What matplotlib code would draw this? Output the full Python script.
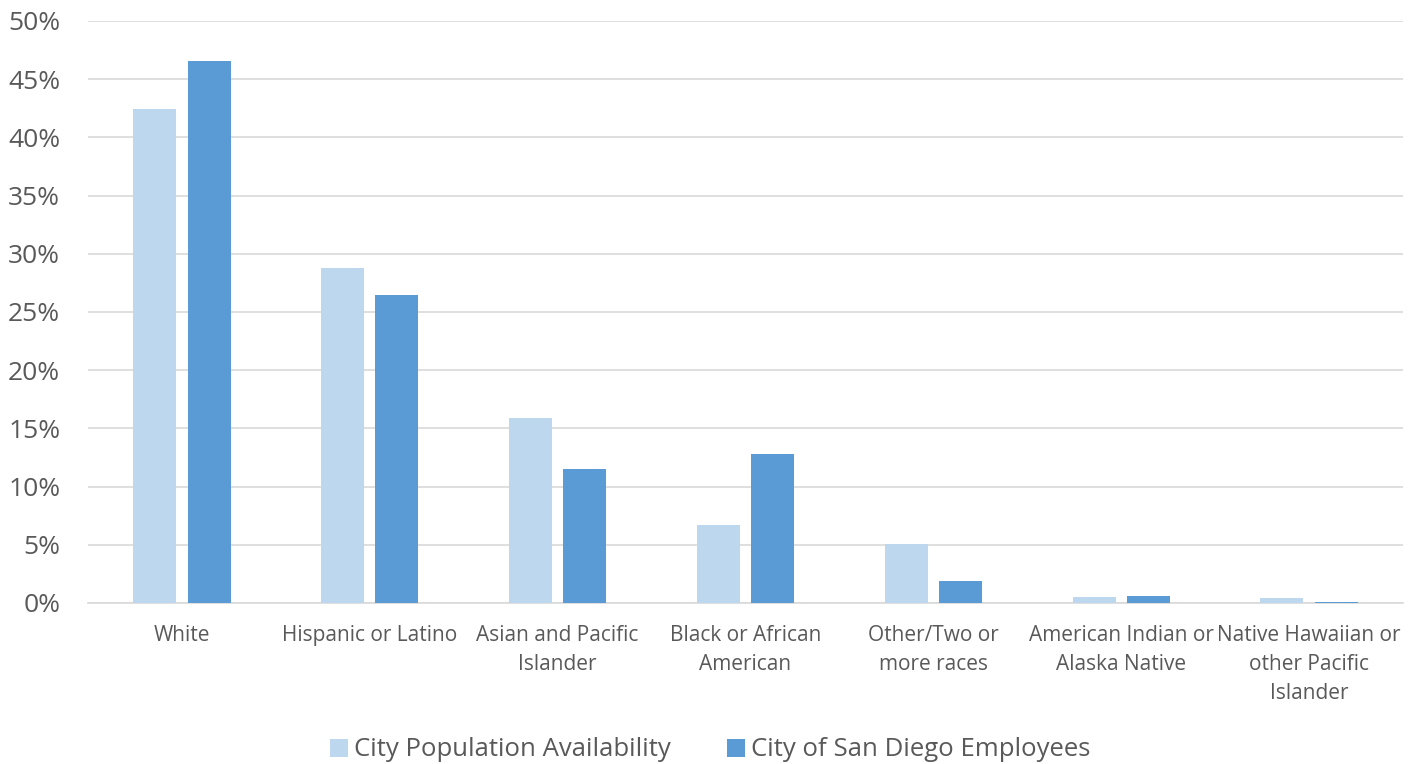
import matplotlib
matplotlib.use("Agg")
import matplotlib.pyplot as plt
import numpy as np

categories = ["White", "Hispanic or Latino", "Asian and Pacific\nIslander",
              "Black or African\nAmerican", "Other/Two or\nmore races",
              "American Indian or\nAlaska Native", "Native Hawaiian or\nother Pacific\nIslander"]
population = [42.4, 28.8, 15.9, 6.7, 5.1, 0.55, 0.43]
employees = [46.6, 26.5, 11.5, 12.8, 1.9, 0.58, 0.09]
series_names = ["City Population Availability", "City of San Diego Employees"]
yticks = [0, 5, 10, 15, 20, 25, 30, 35, 40, 45, 50]

plt.rcParams['font.family'] = ['Open Sans', 'DejaVu Sans']
text_color = "#595959"

fig = plt.figure(figsize=(14.2, 7.64), dpi=100)
ax = fig.add_axes([88/1420, 1-603/764, (1403-88)/1420, (603-21)/764])

x = np.arange(len(categories))
w = 0.229
gap = 0.06
ax.bar(x - (w + gap)/2, population, width=w, color="#BDD7EE", label=series_names[0], zorder=3)
ax.bar(x + (w + gap)/2, employees, width=w, color="#5B9BD5", label=series_names[1], zorder=3)

ax.set_xlim(-0.5, len(categories) - 0.5)
ax.set_ylim(0, 50)
ax.set_yticks(yticks)
ax.set_yticklabels([f"{v}%" for v in yticks], fontsize=19, color=text_color)
ax.set_xticks(x)
ax.set_xticklabels(categories, fontsize=15, color=text_color, linespacing=1.48, va="top")
ax.tick_params(axis="both", length=0)
ax.tick_params(axis="x", pad=16)
ax.tick_params(axis="y", pad=20)
ax.grid(axis="y", color="#D9D9D9", linewidth=1.2, zorder=0)
for s in ["top", "right", "left"]:
    ax.spines[s].set_visible(False)
ax.spines["bottom"].set_color("#D9D9D9")
ax.spines["bottom"].set_linewidth(1.2)

leg = fig.legend(loc="center", bbox_to_anchor=(0.5, 1-750/764), ncol=2, frameon=False,
                 fontsize=18.5, handlelength=0.7, handleheight=0.7, columnspacing=2.2, handletextpad=0.22)
for t in leg.get_texts():
    t.set_color(text_color)

fig.savefig("out.png", dpi=100)
